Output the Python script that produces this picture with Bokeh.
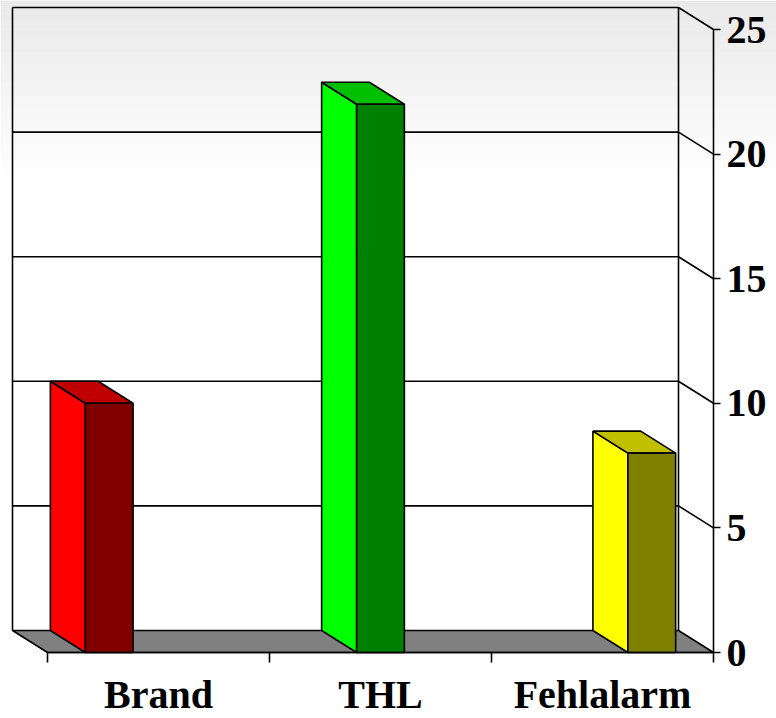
from bokeh.plotting import figure
from bokeh.models import Range1d, LinearAxis, FixedTicker, ColumnDataSource
from bokeh.embed import file_html
from bokeh.resources import INLINE

# ---- data ----
categories = ["Brand", "THL", "Fehlalarm"]
series_names = ["Brand", "THL", "Fehlalarm"]
brand_values = [10, 0, 0]
thl_values = [0, 22, 0]
fehlalarm_values = [0, 0, 8]
y_ticks = [0, 5, 10, 15, 20, 25]

series_values = [brand_values, thl_values, fehlalarm_values]
# (side face, front face, top face)
series_colors = [
    ("#ff0000", "#800000", "#c00000"),
    ("#00ff00", "#008000", "#00c000"),
    ("#ffff00", "#808000", "#c0c000"),
]

# ---- geometry ----
W, H = 776, 718
PX_X = 222.0          # pixels per category
PX_Y = 24.92          # pixels per unit
X0_PX = 47.0          # pixel x of category origin
Y0_PX = 652.0         # pixel y of value 0
DX = -35.0 / PX_X     # depth offset (x)
DY = 22.0 / PX_Y      # depth offset (y)
BAR_W = 0.215
BAR_STEP = 0.222
YMAX = y_ticks[-1]
NCAT = len(categories)

x_range = Range1d(-X0_PX / PX_X, (W - X0_PX) / PX_X)
y_range = Range1d(-(H - Y0_PX) / PX_Y, Y0_PX / PX_Y)

p = figure(width=W, height=H, x_range=x_range, y_range=y_range,
           output_backend="svg", toolbar_location=None,
           x_axis_location=None, y_axis_location=None,
           min_border=0, min_border_left=0, min_border_right=0,
           min_border_top=0, min_border_bottom=0)
p.outline_line_color = None
p.xgrid.visible = False
p.ygrid.visible = False
p.background_fill_color = "#ffffff"
p.border_fill_color = "#ffffff"

# ---- background gradient (decorative) ----
nb = 90
band_px = 2.0
tops, bottoms, cols = [], [], []
for i in range(nb):
    t = i / (nb - 1)
    g = int(round(0xe8 + (0xff - 0xe8) * t))
    tops.append(y_range.end - i * band_px / PX_Y)
    bottoms.append(y_range.end - (i + 1) * band_px / PX_Y - 0.01)
    cols.append("#%02x%02x%02x" % (g, g, g))
p.quad(left=x_range.start, right=x_range.end, top=tops, bottom=bottoms,
       fill_color=cols, line_color=None)

# ---- back wall & gridlines ----
LW = 1.6
gx0, gx1, gy = [], [], []
for t in y_ticks[1:]:
    gx0.append(DX); gx1.append(NCAT + DX); gy.append(t + DY)
p.segment(x0=gx0, y0=gy, x1=gx1, y1=gy, line_color="black", line_width=LW)
# diagonals from back wall to front axis
p.segment(x0=[NCAT + DX] * len(y_ticks[1:]), y0=[t + DY for t in y_ticks[1:]],
          x1=[NCAT] * len(y_ticks[1:]), y1=y_ticks[1:], line_color="black", line_width=LW)
# wall verticals
p.segment(x0=[DX, NCAT + DX], y0=[DY, DY], x1=[DX, NCAT + DX], y1=[YMAX + DY, YMAX + DY],
          line_color="black", line_width=LW)

# ---- floor ----
p.patch(x=[0, NCAT, NCAT + DX, DX], y=[0, 0, DY, DY], fill_color="#808080",
        line_color="black", line_width=LW)

# ---- bars ----
for j, vals in enumerate(series_values):
    side_c, front_c, top_c = series_colors[j]
    off = (j - (len(series_values) - 1) / 2) * BAR_STEP
    for i, v in enumerate(vals):
        if v <= 0:
            continue
        xl = i + 0.5 + off - BAR_W / 2
        xr = xl + BAR_W
        # side face
        p.patch(x=[xl, xl, xl + DX, xl + DX], y=[0, v, v + DY, DY],
                fill_color=side_c, line_color="black", line_width=LW)
        # top face
        p.patch(x=[xl, xr, xr + DX, xl + DX], y=[v, v, v + DY, v + DY],
                fill_color=top_c, line_color="black", line_width=LW)
        # front face
        p.quad(left=xl, right=xr, bottom=0, top=v,
               fill_color=front_c, line_color="black", line_width=LW)

# ---- axes ----
FONT = "Liberation Serif"
xaxis = LinearAxis(fixed_location=0, bounds=(0, NCAT),
                   ticker=FixedTicker(ticks=[i + 0.5 for i in range(NCAT)],
                                      minor_ticks=list(range(NCAT + 1))))
xaxis.major_label_overrides = {i + 0.5: c for i, c in enumerate(categories)}
xaxis.major_tick_out = 0
xaxis.major_tick_in = 0
xaxis.minor_tick_out = 10
xaxis.minor_tick_in = 0
xaxis.minor_tick_line_color = "black"
xaxis.minor_tick_line_width = LW
xaxis.axis_line_color = "black"
xaxis.axis_line_width = LW
xaxis.major_label_text_font = FONT
xaxis.major_label_text_font_style = "bold"
xaxis.major_label_text_font_size = "40px"
xaxis.major_label_text_color = "black"
xaxis.major_label_standoff = 9
p.add_layout(xaxis, "below")

yaxis = LinearAxis(fixed_location=NCAT, bounds=(0, YMAX),
                   ticker=FixedTicker(ticks=y_ticks, minor_ticks=[]))
yaxis.major_tick_out = 7
yaxis.major_tick_in = 0
yaxis.major_tick_line_width = LW
yaxis.minor_tick_out = 0
yaxis.axis_line_color = "black"
yaxis.axis_line_width = LW
yaxis.major_label_text_font = FONT
yaxis.major_label_text_font_style = "bold"
yaxis.major_label_text_font_size = "40px"
yaxis.major_label_text_color = "black"
yaxis.major_label_standoff = 6
p.add_layout(yaxis, "right")

open("out.html", "w").write(file_html(p, INLINE))
